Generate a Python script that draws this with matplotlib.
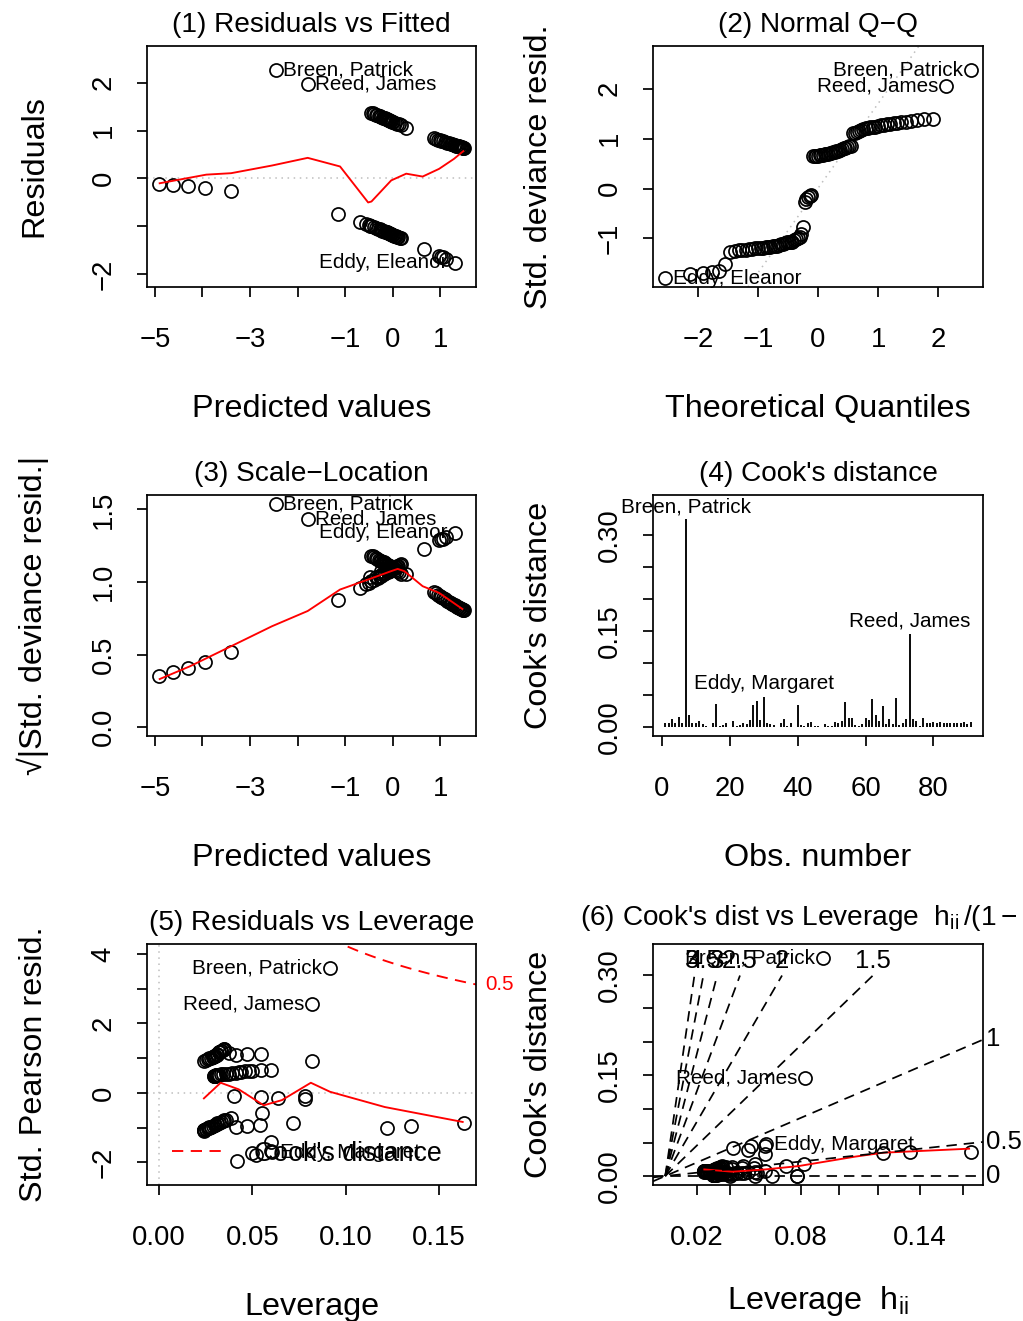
import numpy as np
import matplotlib
matplotlib.use("Agg")
import matplotlib.pyplot as plt
from matplotlib.lines import Line2D
from statistics import NormalDist

plt.rcParams["font.family"] = ["Liberation Sans", "DejaVu Sans"]
plt.rcParams["mathtext.fontset"] = "custom"
plt.rcParams["mathtext.rm"] = "Liberation Sans"
plt.rcParams["mathtext.it"] = "Liberation Sans:italic"
plt.rcParams["mathtext.bf"] = "Liberation Sans:bold"
plt.rcParams["axes.unicode_minus"] = True

# ---------------------------------------------------------------------------
# Logistic regression of survival: one entry per observation (obs. 1..91)
# ---------------------------------------------------------------------------
linear_predictor = [
    0.87, 0.11, -0.15, 0.09, -0.17, -0.25, -2.46, -0.19, -0.28, 0.90,
    -0.11, 1.06, 1.31, -4.91, -0.50, -0.48, 1.37, 1.10, -0.45, -4.62,
    -0.09, 1.39, 1.14, -0.19, 0.94, -0.30, -0.25, 1.30, -0.27, 1.02,
    -0.16, 0.98, 1.18, -4.31, 0.01, -0.33, 1.33, -0.32, -3.94, -0.13,
    1.22, 1.41, -0.40, -0.07, 1.43, 1.45, -3.40, -1.15, 1.47, 1.48,
    -0.05, -0.11, -0.21, 1.05, -0.45, -0.36, 1.25, 1.49, -0.69, -0.39,
    -0.13, 1.117, 0.28, -0.09, 0.653, 1.02, -0.24, -0.56, 0.972, 1.28,
    -0.07, -0.36, -1.79, -0.22, -0.13, 1.35, -0.42, -0.05, -0.03, -0.02,
    -0.01, 0.01, 0.03, 0.04, 0.05, 0.08, 0.07, 0.12, 0.14, 0.17, 0.17,
]
survived = [
    1, 0, 1, 0, 1, 0, 1, 1, 0, 1,
    1, 1, 1, 0, 0, 0, 1, 1, 0, 0,
    1, 1, 1, 0, 1, 1, 0, 0, 1, 0,
    0, 1, 1, 0, 0, 1, 1, 0, 0, 0,
    1, 1, 0, 1, 1, 1, 0, 0, 1, 1,
    1, 0, 1, 0, 1, 0, 1, 1, 0, 1,
    0, 0, 1, 0, 0, 1, 1, 0, 0, 1,
    0, 1, 1, 0, 1, 1, 1, 0, 0, 1,
    0, 1, 0, 1, 0, 1, 0, 1, 0, 1, 0,
]
leverage = [
    0.060, 0.024, 0.0411, 0.024, 0.0473, 0.031, 0.0915, 0.0545, 0.031, 0.0545,
    0.030, 0.044, 0.033, 0.040, 0.035, 0.1635, 0.031, 0.0429, 0.034, 0.078,
    0.030, 0.0305, 0.041, 0.030, 0.050, 0.032, 0.1354, 0.0415, 0.032, 0.0605,
    0.030, 0.048, 0.0393, 0.0545, 0.026, 0.033, 0.032, 0.032, 0.064, 0.1224,
    0.0375, 0.0304, 0.033, 0.0295, 0.030, 0.030, 0.078, 0.0554, 0.0298, 0.0296,
    0.029, 0.029, 0.031, 0.050, 0.035, 0.0718, 0.0357, 0.0295, 0.0384, 0.034,
    0.047, 0.052, 0.0818, 0.041, 0.060, 0.046, 0.0375, 0.036, 0.060, 0.034,
    0.028, 0.033, 0.082, 0.054, 0.031, 0.0315, 0.0348, 0.028, 0.027, 0.029,
    0.027, 0.028, 0.026, 0.027, 0.025, 0.026, 0.025, 0.025, 0.024, 0.0241, 0.024,
]
n_coef = 4
names = {7: "Breen, Patrick", 28: "Eddy, Eleanor", 30: "Eddy, Margaret", 73: "Reed, James"}

# smoother traces
fit_smooth_x = [-4.90, -4.41, -3.92, -3.40, -2.54, -1.79, -1.11, -0.52, -0.45, -0.035, 0.28, 0.625, 0.97, 1.285, 1.48]
fit_smooth_y = [-0.10, -0.01, 0.08, 0.11, 0.27, 0.43, 0.25, -0.50, -0.48, -0.04, 0.10, 0.04, 0.20, 0.41, 0.57]
scale_smooth_x = [-4.90, -4.27, -3.40, -2.54, -1.79, -1.11, -0.52, -0.035, 0.10, 0.24, 0.625, 0.97, 1.46]
scale_smooth_y = [0.331, 0.418, 0.557, 0.695, 0.80, 0.948, 1.017, 1.075, 1.09, 1.075, 0.971, 0.925, 0.814]
lev_smooth_x = [0.0240, 0.0330, 0.0427, 0.0561, 0.0659, 0.0814, 0.0917, 0.1211, 0.1629]
lev_smooth_y = [-0.16, 0.29, 0.10, -0.36, -0.21, 0.29, 0.03, -0.41, -0.84]
cooklev_smooth_x = [0.025, 0.043, 0.064, 0.0853, 0.1213, 0.1393, 0.1944]
cooklev_smooth_y = [0.0099, 0.0065, 0.0099, 0.0149, 0.0289, 0.0348, 0.0408]

cook_levels = [0.5]
contour_levels = [0, 0.5, 1, 1.5, 2, 2.5, 3, 3.5, 4]

# ---------------------------------------------------------------------------
# diagnostics
# ---------------------------------------------------------------------------
eta = np.asarray(linear_predictor, float)
yv = np.asarray(survived, float)
h = np.asarray(leverage, float)
n = eta.size
obs = np.arange(1, n + 1)

mu = 1.0 / (1.0 + np.exp(-eta))
dev_res = np.sign(yv - mu) * np.sqrt(-2.0 * (yv * np.log(mu) + (1 - yv) * np.log(1 - mu)))
pear_res = (yv - mu) / np.sqrt(mu * (1 - mu))
std_dev = dev_res / np.sqrt(1 - h)
std_pear = pear_res / np.sqrt(1 - h)
cook = pear_res ** 2 * h / (n_coef * (1 - h) ** 2)
g = h / (1 - h)

# ---------------------------------------------------------------------------
# figure
# ---------------------------------------------------------------------------
W, H, DPI = 1023, 1321, 100
fig = plt.figure(figsize=(W / DPI, H / DPI), dpi=DPI)
fig.patch.set_facecolor("white")

FS_TICK = 19.8
FS_TITLE = 20.2
FS_LAB = 23.3
FS_ID = 14.9
GRAY = "#BEBEBE"
DASH = (0, (6.0, 4.0))
LW = 1.25
PT = dict(ls="none", marker="o", ms=9.4, mfc="none", mec="black", mew=1.25)
MINUS = "\u2212"

P1 = (147, 46, 476, 287)
P2 = (653, 46, 983, 287)
P3 = (147, 495, 476, 736)
P4 = (653, 495, 983, 736)
P5 = (147, 944, 476, 1185)
P6 = (653, 944, 983, 1185)


def ftext(x, y, s, **kw):
    return fig.text(x / W, 1 - y / H, s, **kw)


def padded(lo, hi, f=0.04):
    r = hi - lo
    return lo - f * r, hi + f * r


def make_axes(box):
    l, t, r, b = box
    ax = fig.add_axes([l / W, 1 - b / H, (r - l) / W, (b - t) / H])
    for s in ax.spines.values():
        s.set_linewidth(LW)
    ax.tick_params(direction="out", length=7.0, width=LW, labelsize=FS_TICK, color="black")
    ax.tick_params(axis="x", pad=22)
    ax.tick_params(axis="y", pad=15)
    return ax


def decorate(box, title, xlab, ylab, title_dy=0, xlab_dy=0):
    l, t, r, b = box
    cx, cy = (l + r) / 2, (t + b) / 2
    ftext(cx, t - 14 - title_dy, title, ha="center", va="baseline", fontsize=FS_TITLE)
    ftext(cx, b + 130 - xlab_dy, xlab, ha="center", va="baseline", fontsize=FS_LAB)
    xl = 42 if l < 500 else 547
    ftext(xl, cy, ylab, ha="center", va="baseline", rotation=90,
          rotation_mode="anchor", fontsize=FS_LAB)


def label_point(ax, x, y, text, side):
    off = {"left": (-5.5, 0), "right": (5.5, 0), "above": (0, 2.5)}[side]
    ha = {"left": "right", "right": "left", "above": "center"}[side]
    va = "bottom" if side == "above" else "center"
    ax.annotate(text, (x, y), xytext=off, textcoords="offset points", ha=ha, va=va,
                fontsize=FS_ID, annotation_clip=False)


def side_by_mid(ax, x):
    return "right" if x < np.mean(ax.get_xlim()) else "left"


# (1) Residuals vs Fitted
ax = make_axes(P1)
lo, hi = dev_res.min(), dev_res.max()
ax.set_xlim(*padded(eta.min(), eta.max()))
ax.set_ylim(*padded(*padded(lo, hi, 0.08)))
ax.axhline(0, color=GRAY, lw=1.1, ls=(0, (1, 3)))
ax.plot(eta, dev_res, **PT)
ax.plot(fit_smooth_x, fit_smooth_y, color="red", lw=1.35)
ax.set_xticks(range(-5, 2), [MINUS + "5", "", MINUS + "3", "", MINUS + "1", "0", "1"])
ax.set_yticks(range(-2, 3), [MINUS + "2", "", "0", "1", "2"], rotation=90, va="center")
for i in np.argsort(-np.abs(dev_res))[:3]:
    label_point(ax, eta[i], dev_res[i], names[i + 1], side_by_mid(ax, eta[i]))
decorate(P1, "(1) Residuals vs Fitted", "Predicted values", "Residuals")

# (2) Normal Q-Q
ax = make_axes(P2)
nd = NormalDist()
theo = np.array([nd.inv_cdf((k - 0.5) / n) for k in range(1, n + 1)])
qx = np.empty(n)
qx[np.argsort(std_dev, kind="stable")] = theo
lo, hi = std_dev.min(), std_dev.max()
ax.set_xlim(*padded(theo.min(), theo.max()))
ax.set_ylim(*padded(lo, hi + 0.075 * (hi - lo)))
yq = np.quantile(std_dev, [0.25, 0.75])
xq = np.array([nd.inv_cdf(0.25), nd.inv_cdf(0.75)])
slope = (yq[1] - yq[0]) / (xq[1] - xq[0])
ax.axline((xq[0], yq[0]), slope=slope, color=GRAY, lw=1.1, ls=(0, (1, 3)))
ax.plot(qx, std_dev, **PT)
ax.set_xticks(range(-2, 3), [MINUS + "2", MINUS + "1", "0", "1", "2"])
ax.set_yticks(range(-1, 3), [MINUS + "1", "0", "1", "2"], rotation=90, va="center")
for i in np.argsort(-np.abs(std_dev))[:3]:
    label_point(ax, qx[i], std_dev[i], names[i + 1], side_by_mid(ax, qx[i]))
decorate(P2, "(2) Normal Q" + MINUS + "Q", "Theoretical Quantiles", "Std. deviance resid.")

# (3) Scale-Location
ax = make_axes(P3)
sq = np.sqrt(np.abs(std_dev))
ax.set_xlim(*padded(eta.min(), eta.max()))
ax.set_ylim(*padded(0, sq.max()))
ax.plot(eta, sq, **PT)
ax.plot(scale_smooth_x, scale_smooth_y, color="red", lw=1.35)
ax.set_xticks(range(-5, 2), [MINUS + "5", "", MINUS + "3", "", MINUS + "1", "0", "1"])
ax.set_yticks([0, 0.5, 1.0, 1.5], ["0.0", "0.5", "1.0", "1.5"], rotation=90, va="center")
for i in np.argsort(-np.abs(std_dev))[:3]:
    label_point(ax, eta[i], sq[i], names[i + 1], side_by_mid(ax, eta[i]))
decorate(P3, "(3) Scale" + MINUS + "Location", "Predicted values", "\u221a|Std. deviance resid.|")

# (4) Cook's distance
ax = make_axes(P4)
ax.set_xlim(*padded(1, n))
ax.set_ylim(*padded(0, cook.max() * 1.075))
ax.vlines(obs, 0, cook, color="black", lw=1.35)
ax.set_xticks([0, 20, 40, 60, 80], ["0", "20", "40", "60", "80"])
cticks = [0, 0.05, 0.10, 0.15, 0.20, 0.25, 0.30]
ax.set_yticks(cticks, ["0.00", "", "", "0.15", "", "", "0.30"], rotation=90, va="center")
top3 = np.argsort(-cook)[:3]
for i in top3:
    label_point(ax, obs[i], cook[i], names[i + 1], "above")
decorate(P4, "(4) Cook's distance", "Obs. number", "Cook's distance")

# (5) Residuals vs Leverage
ax = make_axes(P5)
lo, hi = std_pear.min(), std_pear.max()
ax.set_xlim(*padded(0, h.max()))
ax.set_ylim(*padded(*padded(lo, hi, 0.08)))
ax.axhline(0, color=GRAY, lw=1.1, ls=(0, (1, 3)))
ax.axvline(0, color=GRAY, lw=1.1, ls=(0, (1, 3)))
ax.plot(h, std_pear, **PT)
ax.plot(lev_smooth_x, lev_smooth_y, color="red", lw=1.35)
x_right = ax.get_xlim()[1]
hh = np.linspace(min(h.min(), h.max() / 100), x_right, 101)
for lev in cook_levels:
    cl = np.sqrt(lev * n_coef * (1 - hh) / hh)
    ax.plot(hh, cl, color="red", lw=1.35, ls=DASH)
    ax.plot(hh, -cl, color="red", lw=1.35, ls=DASH)
    aty = np.sqrt(lev) * np.sqrt(n_coef * (1 - min(0.99, x_right)) / min(0.99, x_right))
    ax.annotate(f"{lev:g}", xy=(1, aty), xycoords=("axes fraction", "data"),
                xytext=(7, 0), textcoords="offset points", ha="left", va="center",
                color="red", fontsize=FS_ID, annotation_clip=False)
ax.set_xticks([0, 0.05, 0.10, 0.15], ["0.00", "0.05", "0.10", "0.15"])
ax.set_yticks(range(-2, 5), [MINUS + "2", "", "0", "", "2", "", "4"], rotation=90, va="center")
lev_side = {7: "left", 73: "left", 30: "right"}
for i in top3:
    label_point(ax, h[i], std_pear[i], names[i + 1], lev_side.get(i + 1, "right"))
fig.add_artist(Line2D([172 / W, 222 / W], [1 - 1151 / H] * 2, color="red", lw=1.35, ls=DASH))
ftext(254, 1161, "Cook's distance", ha="left", va="baseline", fontsize=19.3)
decorate(P5, "(5) Residuals vs Leverage", "Leverage", "Std. Pearson resid.")

# (6) Cook's dist vs Leverage
ax = make_axes(P6)
ax.set_xlim(*padded(0, g.max()))
ax.set_ylim(*padded(0, cook.max() * 1.025))
ax.plot(g, cook, **PT)
ax.plot(cooklev_smooth_x, cooklev_smooth_y, color="red", lw=1.35)
athat = np.round(np.arange(0.02, 0.161, 0.02), 2)
ax.set_xticks(athat / (1 - athat), ["0.02", "", "", "0.08", "", "", "0.14", ""])
ax.set_yticks(cticks, ["0.00", "", "", "0.15", "", "", "0.30"], rotation=90, va="center")
(x0, x1), (y0, y1) = ax.get_xlim(), ax.get_ylim()
ax_w = P6[2] - P6[0]
ax_h = P6[3] - P6[1]
sw3 = 2.6 * (x1 - x0) / ax_w          # a third of a space width
sh = 21.0 * (y1 - y0) / ax_h          # one character height
for b in contour_levels:
    b2 = b * b
    lab = f"{b:g}"
    if y1 > b2 * x1:
        ax.axline((0, 0), slope=b2, color="black", lw=LW, ls=DASH)
        xi = x1 + sw3
        ax.text(xi, b2 * xi, lab, ha="left", va="center", fontsize=18.5, clip_on=False)
    else:
        yi = y1 - 1.5 * sh
        xi = yi / b2
        ax.plot([0, xi], [0, yi], color="black", lw=LW, ls=DASH)
        ax.text(xi, y1 - 0.8 * sh, lab, ha="center", va="center", fontsize=18.5, clip_on=False)
for i in top3:
    label_point(ax, g[i], cook[i], names[i + 1], lev_side.get(i + 1, "right"))
decorate(P6, r"(6) Cook's dist vs Leverage  $\mathregular{h_{ii}\,/(1-h_{ii})}$",
         r"Leverage  $\mathregular{h_{ii}}$", "Cook's distance", title_dy=5, xlab_dy=6)

fig.savefig("out.png", dpi=DPI)
